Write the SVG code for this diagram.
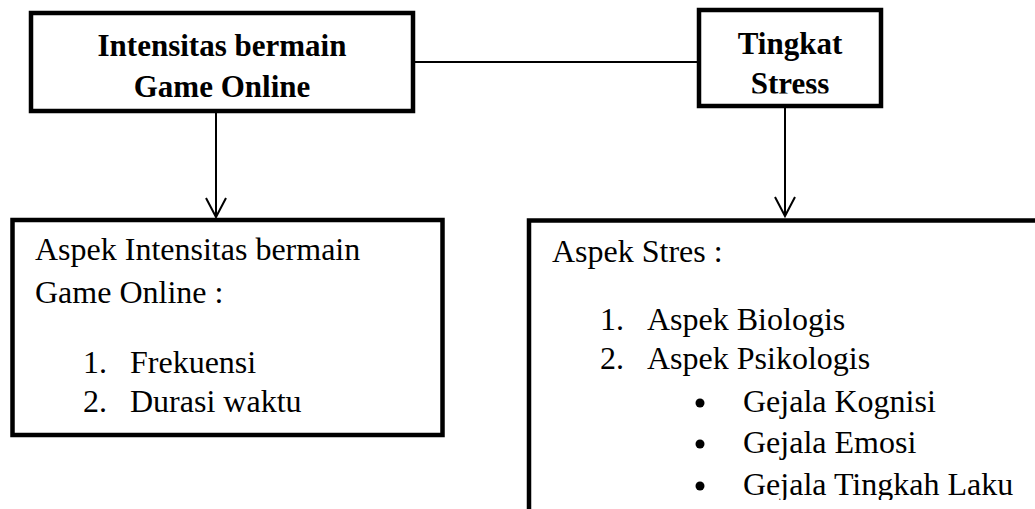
<svg xmlns="http://www.w3.org/2000/svg" width="1035" height="509" viewBox="0 0 1035 509">
  <style>
    .box { fill: #ffffff; stroke: #000000; stroke-width: 4.5; }
    .conn { fill: none; stroke: #000000; stroke-width: 2; }
    .title { font-family: "Liberation Serif", "Times New Roman", serif; font-weight: bold; font-size: 31px; fill: #000000; text-anchor: middle; }
    .body { font-family: "Liberation Serif", "Times New Roman", serif; font-size: 32px; fill: #000000; }
    .dot { fill: #000000; }
  </style>
  <defs>
    <marker id="arrow" markerUnits="userSpaceOnUse" viewBox="-22 -12 24 24" markerWidth="24" markerHeight="24" refX="0" refY="0" orient="auto" overflow="visible">
      <path d="M-19,-10 L0,0 L-19,10" fill="none" stroke="#000000" stroke-width="2"/>
    </marker>
    <clipPath id="clipStress"><rect x="699" y="10" width="182" height="83.5"/></clipPath>
    <clipPath id="clipBottom"><rect x="0" y="0" width="1035" height="500"/></clipPath>
  </defs>
  <rect x="0" y="0" width="1035" height="509" fill="#ffffff"/>

  <g id="connectors">
    <line class="conn" x1="413" y1="62" x2="699" y2="62"/>
    <line class="conn" x1="216" y1="111" x2="216" y2="217" marker-end="url(#arrow)"/>
    <line class="conn" x1="785" y1="106" x2="785" y2="216" marker-end="url(#arrow)"/>
  </g>

  <g id="node-intensitas">
    <rect class="box" x="31" y="13" width="382" height="98"/>
    <text class="title" x="222" y="56">Intensitas bermain</text>
    <text class="title" x="222" y="97">Game Online</text>
  </g>

  <g id="node-stress">
    <rect class="box" x="699" y="10" width="182" height="96"/>
    <text class="title" x="790" y="54">Tingkat</text>
    <text class="title" x="790" y="93.5" clip-path="url(#clipStress)">Stress</text>
  </g>

  <g id="node-aspek-intensitas">
    <rect class="box" x="12.5" y="220" width="430" height="215"/>
    <text class="body" x="35" y="260">Aspek Intensitas bermain</text>
    <text class="body" x="35" y="303">Game Online :</text>
    <text class="body" x="83" y="373">1.</text>
    <text class="body" x="130" y="373">Frekuensi</text>
    <text class="body" x="83" y="412">2.</text>
    <text class="body" x="130" y="412">Durasi waktu</text>
  </g>

  <g id="node-aspek-stres">
    <rect class="box" x="529" y="220.5" width="600" height="400"/>
    <text class="body" x="552" y="262">Aspek Stres :</text>
    <text class="body" x="600" y="330">1.</text>
    <text class="body" x="647" y="330">Aspek Biologis</text>
    <text class="body" x="600" y="369">2.</text>
    <text class="body" x="647" y="369">Aspek Psikologis</text>
    <circle class="dot" cx="700" cy="403" r="4.5"/>
    <text class="body" x="743" y="412">Gejala Kognisi</text>
    <circle class="dot" cx="700" cy="444" r="4.5"/>
    <text class="body" x="743" y="453">Gejala Emosi</text>
    <circle class="dot" cx="700" cy="486" r="4.5"/>
    <text class="body" x="743" y="495" clip-path="url(#clipBottom)">Gejala Tingkah Laku</text>
  </g>
</svg>
